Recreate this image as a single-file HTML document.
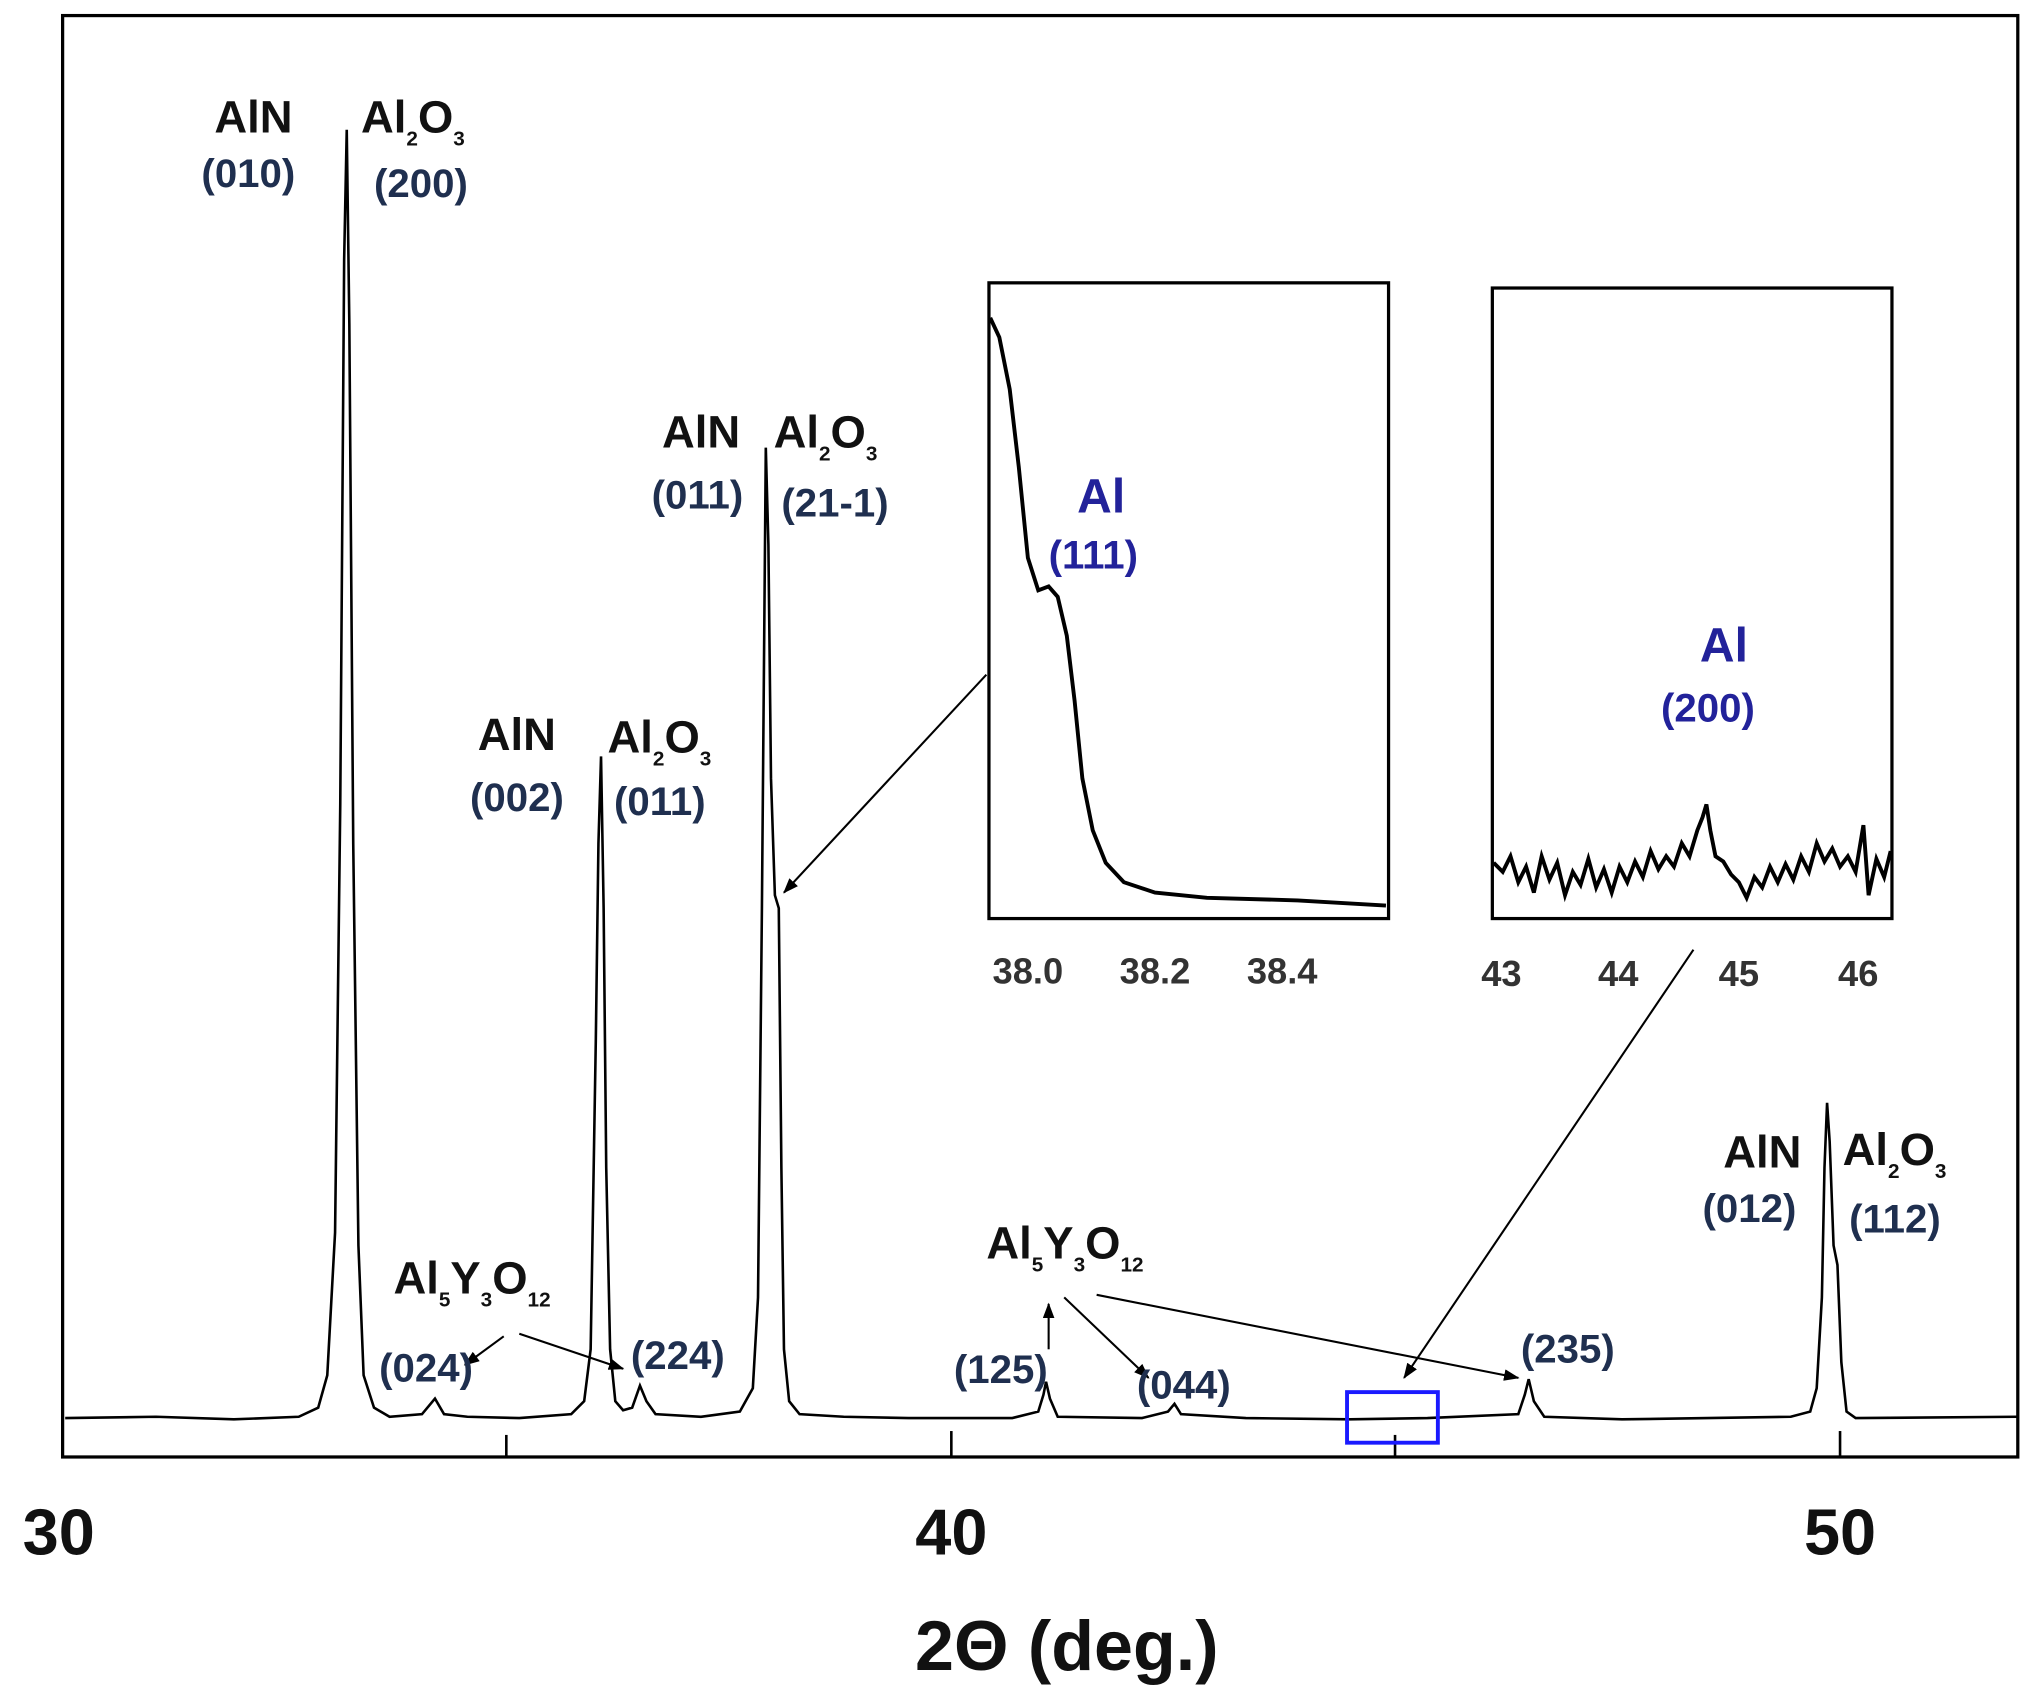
<!DOCTYPE html>
<html><head><style>
html,body{margin:0;padding:0;background:#fff;}
svg{display:block}
text{font-family:"Liberation Sans",sans-serif;font-weight:bold;}
</style></head><body>
<svg width="2035" height="1697" viewBox="0 0 1568 1308" xmlns="http://www.w3.org/2000/svg">
<defs>
<marker id="ah" markerWidth="12" markerHeight="9" refX="11" refY="4.5" orient="auto" markerUnits="userSpaceOnUse"><path d="M0,0 L12,4.5 L0,9 z" fill="#000"/></marker>
</defs>
<rect x="48" y="12" width="1507" height="1111" fill="none" stroke="#000" stroke-width="2.5"/>
<g stroke="#000" stroke-width="2">
<line x1="390" y1="1123" x2="390" y2="1106"/><line x1="733" y1="1123" x2="733" y2="1103"/><line x1="1075" y1="1123" x2="1075" y2="1106"/><line x1="1418" y1="1123" x2="1418" y2="1103"/>
</g>
<polyline fill="none" stroke="#000" stroke-width="2" points="
50,1093 120,1092 180,1094 230,1092 245,1085 252,1060 258,950 262,620 265,200 267,100 269,250 272,650 276,960 280,1060 288,1085 300,1092 325,1090 335,1078 342,1090 360,1092 400,1093 440,1090 450,1080 455,1040 459,800 461,650 463,583 465,700 467,900 470,1040 474,1080 480,1087 487,1085 493,1068 498,1080 505,1090 540,1092 570,1088 580,1070 584,1000 587,700 590,345 592,420 594,600 597,690 600,700 602,900 604,1040 608,1080 616,1090 650,1092 700,1093 780,1093 800,1088 804,1075 806,1065 809,1078 815,1092 880,1093 900,1088 905,1082 910,1090 960,1093 1040,1094 1100,1093 1170,1090 1175,1075 1178,1063 1182,1080 1190,1092 1250,1094 1380,1092 1395,1088 1400,1070 1404,1000 1406,900 1408,850 1410,880 1413,960 1416,975 1419,1050 1423,1088 1430,1093 1555,1092"/>
<rect x="1038" y="1073" width="70" height="39" fill="none" stroke="#1a1aff" stroke-width="3"/>
<rect x="762" y="218" width="308" height="490" fill="#fff" stroke="#000" stroke-width="2.5"/>
<polyline fill="none" stroke="#000" stroke-width="3" points="763,245 770,260 778,300 785,360 792,430 800,455 808,452 815,460 822,490 828,540 834,600 842,640 852,665 866,680 890,688 930,692 1000,694 1068,698"/>
<rect x="1150" y="222" width="308" height="486" fill="#fff" stroke="#000" stroke-width="2.5"/>
<polyline fill="none" stroke="#000" stroke-width="3" points="1151,665 1158,672 1164,660 1170,680 1176,668 1182,688 1188,660 1194,678 1200,665 1206,690 1212,672 1218,682 1224,662 1230,684 1236,670 1242,688 1248,668 1254,680 1260,664 1266,676 1272,656 1278,670 1284,660 1290,668 1296,650 1302,660 1308,640 1312,630 1315,620 1318,640 1322,660 1328,664 1334,674 1340,680 1346,692 1352,676 1358,684 1364,668 1370,680 1376,666 1382,678 1388,660 1394,672 1400,650 1406,664 1412,654 1418,668 1424,660 1430,672 1436,636 1440,690 1446,662 1452,676 1457,656"/>
<g stroke="#000" stroke-width="1.6" fill="none" marker-end="url(#ah)">
<line x1="760" y1="520" x2="604" y2="688"/>
<line x1="1305" y1="732" x2="1082" y2="1062"/>
<line x1="845" y1="998" x2="1170" y2="1062"/>
<line x1="820" y1="1000" x2="885" y2="1062"/>
<line x1="808" y1="1040" x2="808" y2="1005"/>
<line x1="400" y1="1028" x2="480" y2="1055"/>
<line x1="388" y1="1030" x2="358" y2="1052"/>
</g>
<g fill="#111" font-size="35">
<text x="165" y="102">AlN</text>
<text x="278" y="102">Al<tspan font-size="16" dy="10">2</tspan><tspan dy="-10">O</tspan><tspan font-size="16" dy="10">3</tspan></text>
<text x="510" y="345">AlN</text>
<text x="596" y="345">Al<tspan font-size="16" dy="10">2</tspan><tspan dy="-10">O</tspan><tspan font-size="16" dy="10">3</tspan></text>
<text x="368" y="578">AlN</text>
<text x="468" y="580">Al<tspan font-size="16" dy="10">2</tspan><tspan dy="-10">O</tspan><tspan font-size="16" dy="10">3</tspan></text>
<text x="1328" y="900">AlN</text>
<text x="1420" y="898">Al<tspan font-size="16" dy="10">2</tspan><tspan dy="-10">O</tspan><tspan font-size="16" dy="10">3</tspan></text>
<text x="303" y="997">Al<tspan font-size="16" dy="10">5</tspan><tspan dy="-10">Y</tspan><tspan font-size="16" dy="10">3</tspan><tspan dy="-10">O</tspan><tspan font-size="16" dy="10">12</tspan></text>
<text x="760" y="970">Al<tspan font-size="16" dy="10">5</tspan><tspan dy="-10">Y</tspan><tspan font-size="16" dy="10">3</tspan><tspan dy="-10">O</tspan><tspan font-size="16" dy="10">12</tspan></text>
</g>
<g fill="#1f2f4f" font-size="31">
<text x="155" y="144">(010)</text>
<text x="288" y="152">(200)</text>
<text x="502" y="392">(011)</text>
<text x="602" y="398">(21-1)</text>
<text x="362" y="625">(002)</text>
<text x="473" y="628">(011)</text>
<text x="1312" y="942">(012)</text>
<text x="1425" y="950">(112)</text>
<text x="292" y="1065">(024)</text>
<text x="486" y="1055">(224)</text>
<text x="735" y="1066">(125)</text>
<text x="876" y="1078">(044)</text>
<text x="1172" y="1050">(235)</text>
</g>
<g fill="#22229a">
<text x="830" y="395" font-size="37">Al</text>
<text x="808" y="438" font-size="31">(111)</text>
<text x="1310" y="510" font-size="37">Al</text>
<text x="1280" y="556" font-size="31">(200)</text>
</g>
<g fill="#333" font-size="28">
<text x="792" y="758" text-anchor="middle">38.0</text>
<text x="890" y="758" text-anchor="middle">38.2</text>
<text x="988" y="758" text-anchor="middle">38.4</text>
<text x="1157" y="760" text-anchor="middle">43</text>
<text x="1247" y="760" text-anchor="middle">44</text>
<text x="1340" y="760" text-anchor="middle">45</text>
<text x="1432" y="760" text-anchor="middle">46</text>
</g>
<g fill="#111" font-size="50">
<text x="45" y="1198" text-anchor="middle">30</text>
<text x="733" y="1198" text-anchor="middle">40</text>
<text x="1418" y="1198" text-anchor="middle">50</text>
<text x="822" y="1287" text-anchor="middle" font-size="54">2Θ (deg.)</text>
</g>
</svg>
</body></html>
